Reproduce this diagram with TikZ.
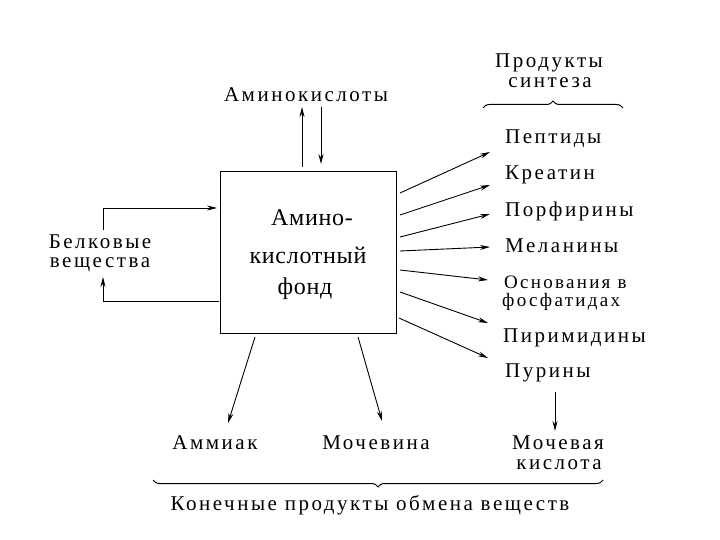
\documentclass[tikz,border=0pt]{standalone}
\usepackage{fontspec}
\setmainfont{Liberation Serif}[LetterSpace=12]
\newfontfamily\boxfont{Liberation Serif}[LetterSpace=3]
\usetikzlibrary{arrows.meta,decorations.pathreplacing}
\tikzset{
  lbl/.style={inner sep=0pt, font=\fontsize{21}{23}\selectfont},
  lbll/.style={lbl, anchor=west},
  bxt/.style={inner sep=0pt, font=\boxfont\fontsize{24}{26}\selectfont},
  arr/.style={line width=0.9pt, -{Stealth[length=10pt,width=5pt]}},
  brc/.style={line width=1pt, decorate, decoration={brace, amplitude=7pt}}
}
\begin{document}
\begin{tikzpicture}[x=1pt,y=-1pt]
\useasboundingbox (0,0) rectangle (720,540);
% box
\node[draw, line width=1pt, minimum width=176pt, minimum height=161pt, inner sep=0pt] (box) at (308,252.5) {};
\node[bxt] (t1) at (312,218) {Амино-};
\node[bxt] (t2) at (308,255) {кислотный};
\node[bxt] (t3) at (305,289) {фонд};
% top
\node[lbl] (amk) at (306,95) {Аминокислоты};
\coordinate (upS) at (302,167); \coordinate (upE) at (302,107);
\coordinate (dnS) at (321,107); \coordinate (dnE) at (321,164);
\draw[arr] (upS) -- (upE);
\draw[arr] (dnS) -- (dnE);
% left
\node[lbl] (bel1) at (100,242) {Белковые};
\node[lbl] (bel2) at (100,265) {вещества};
\coordinate (f1) at (103,230); \coordinate (f1b) at (103,208); \coordinate (f1e) at (217,208);
\draw[arr] (f1) -- (f1b) -- (f1e);
\coordinate (f2) at (219,301); \coordinate (f2b) at (103,301); \coordinate (f2e) at (103,277);
\draw[arr] (f2) -- (f2b) -- (f2e);
% right header
\node[lbl] (ps1) at (549,63) {Продукты};
\node[lbl] (ps2) at (550,83) {синтеза};
\coordinate (b1a) at (483,108); \coordinate (b1b) at (623,108);
\draw[brc] (b1a) -- (b1b);
% right list
\node[lbll] (n1) at (505,139) {Пептиды};
\node[lbll] (n2) at (505,175) {Креатин};
\node[lbll] (n3) at (505,211) {Порфирины};
\node[lbll] (n4) at (505,246) {Меланины};
\node[lbll, font=\fontsize{19}{21}\selectfont] (n5) at (504,282) {Основания в};
\node[lbll, font=\fontsize{19}{21}\selectfont] (n5b) at (502,302) {фосфатидах};
\node[lbll] (n6) at (503,338) {Пиримидины};
\node[lbll] (n7) at (505,373) {Пурины};
\coordinate (s1) at (400,193); \coordinate (e1) at (490,152);
\coordinate (s2) at (400,215); \coordinate (e2) at (490,185);
\coordinate (s3) at (400,237); \coordinate (e3) at (490,214);
\coordinate (s4) at (400,251); \coordinate (e4) at (490,247);
\coordinate (s5) at (400,270); \coordinate (e5) at (488,280);
\coordinate (s6) at (400,292); \coordinate (e6) at (488,323);
\coordinate (s7) at (399,318); \coordinate (e7) at (488,358);
\foreach \i in {1,...,7} {\draw[arr] (s\i) -- (e\i);}
% bottom
\node[lbl] (amm) at (215,443) {Аммиак};
\node[lbl] (moc) at (376,443) {Мочевина};
\node[lbl] (mk1) at (558,443) {Мочевая};
\node[lbl] (mk2) at (559,465) {кислота};
\coordinate (a1) at (255,337); \coordinate (a1e) at (228,423);
\coordinate (a2) at (358,337); \coordinate (a2e) at (382,421);
\coordinate (a3) at (555,392); \coordinate (a3e) at (555,431);
\draw[arr] (a1) -- (a1e);
\draw[arr] (a2) -- (a2e);
\draw[arr] (a3) -- (a3e);
\coordinate (b2a) at (603,480); \coordinate (b2b) at (153,480);
\draw[brc] (b2a) -- (b2b);
\node[lbl] (kon) at (370,505) {Конечные продукты обмена веществ};
\end{tikzpicture}
\end{document}
